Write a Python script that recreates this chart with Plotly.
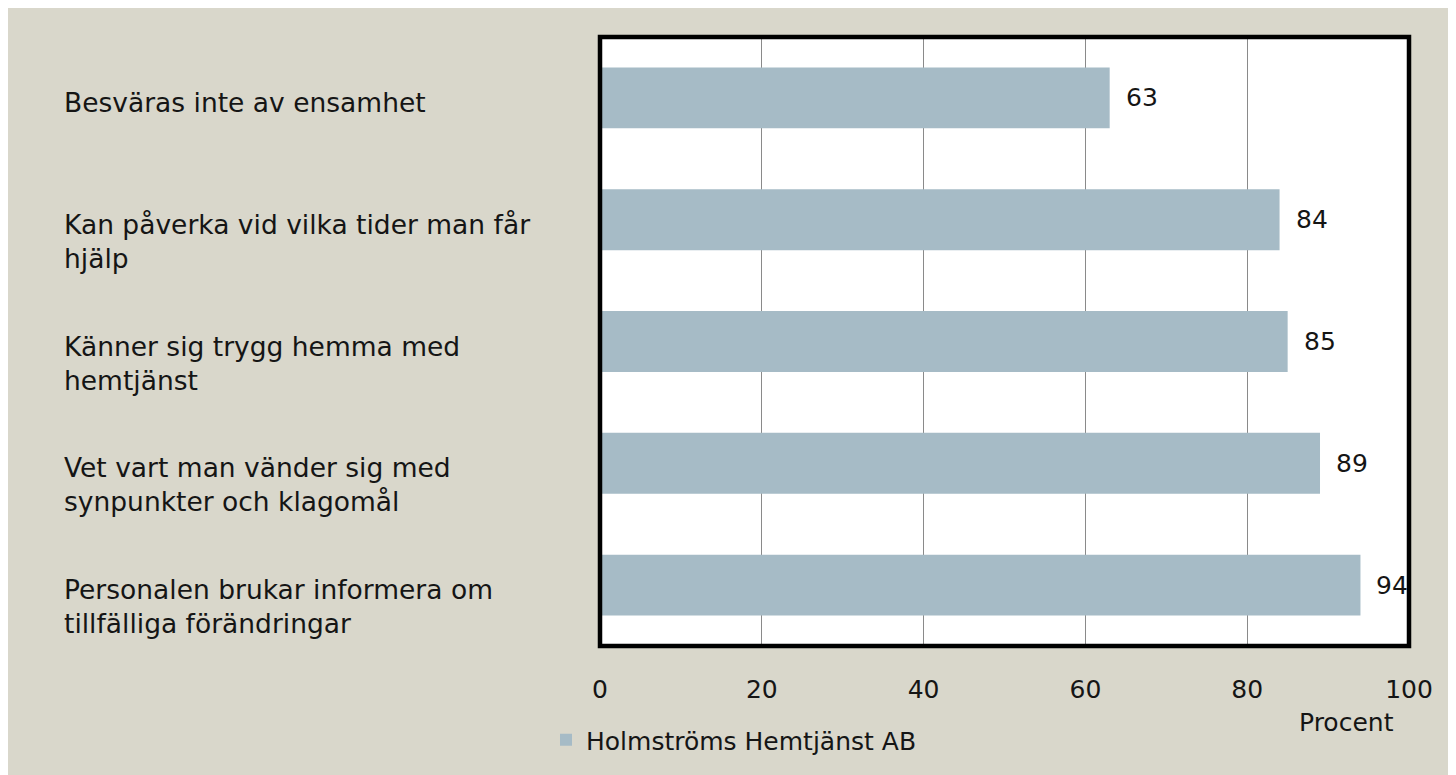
import plotly.graph_objects as go

categories = [
    "Besväras inte av ensamhet",
    "Kan påverka vid vilka tider man får hjälp",
    "Känner sig trygg hemma med hemtjänst",
    "Vet vart man vänder sig med synpunkter och klagomål",
    "Personalen brukar informera om tillfälliga förändringar",
]
display_labels = [
    "Besväras inte av ensamhet",
    "Kan påverka vid vilka tider man får<br>hjälp",
    "Känner sig trygg hemma med<br>hemtjänst",
    "Vet vart man vänder sig med<br>synpunkter och klagomål",
    "Personalen brukar informera om<br>tillfälliga förändringar",
]
values = [63, 84, 85, 89, 94]
series_name = "Holmströms Hemtjänst AB"
x_ticks = [0, 20, 40, 60, 80, 100]
x_title = "Procent"

FONT = "DejaVu Sans"
BEIGE = "#d9d7cb"
BAR = "#a6bbc6"
TXT = "#151515"

# page is offset by the 8px body margin
OFF = 8
W, H = 1456, 775
L, R, T, B = 600 - OFF, 55, 37 - OFF, 137
pw, ph = W - L - R, H - T - B


def px_to_paper_x(px):
    return (px - OFF - L) / pw


def px_to_paper_y(py):
    return (H - B - (py - OFF)) / ph


fig = go.Figure()
fig.add_trace(go.Bar(
    x=values, y=categories, orientation="h",
    marker=dict(color=BAR, line=dict(width=0)),
    width=0.5, name=series_name, showlegend=True,
    hoverinfo="x+y",
))

annotations = []
for cat, lab in zip(categories, display_labels):
    annotations.append(dict(
        xref="paper", yref="y", x=px_to_paper_x(62), y=cat,
        xanchor="left", yanchor="top", yshift=13, text=lab, align="left",
        showarrow=False, font=dict(family=FONT, size=26.5, color=TXT),
    ))
for cat, v in zip(categories, values):
    annotations.append(dict(
        xref="x", yref="y", x=v, y=cat, xanchor="left", yanchor="middle",
        xshift=14, text=str(v), showarrow=False,
        font=dict(family=FONT, size=25, color=TXT),
    ))
annotations.append(dict(
    xref="paper", yref="paper", x=px_to_paper_x(1346), y=px_to_paper_y(722),
    xanchor="center", yanchor="middle", text=x_title, showarrow=False,
    font=dict(family=FONT, size=25, color=TXT),
))

shapes = [
    dict(type="rect", xref="paper", yref="paper", x0=0, x1=1, y0=0, y1=1,
         line=dict(color="black", width=4.5), fillcolor="rgba(0,0,0,0)", layer="above"),
]

fig.update_layout(
    width=W, height=H,
    margin=dict(l=L, r=R, t=T, b=B, pad=0),
    paper_bgcolor=BEIGE, plot_bgcolor="white",
    font=dict(family=FONT, size=25, color=TXT),
    xaxis=dict(range=[0, 100], tickvals=x_ticks, showgrid=True, gridcolor="#8a8a8a",
               gridwidth=1, zeroline=False, showline=False, ticks="",
               ticklabelstandoff=26, tickfont=dict(family=FONT, size=25, color=TXT),
               fixedrange=True),
    yaxis=dict(autorange="reversed", showticklabels=False, showgrid=False,
               zeroline=False, showline=False, ticks="", fixedrange=True),
    bargap=0.5,
    showlegend=True,
    legend=dict(orientation="h", x=px_to_paper_x(546), y=px_to_paper_y(740),
                xanchor="left", yanchor="middle", bgcolor="rgba(0,0,0,0)",
                font=dict(family=FONT, size=25, color=TXT)),
    annotations=annotations, shapes=shapes,
)

fig.write_html("out.html")
